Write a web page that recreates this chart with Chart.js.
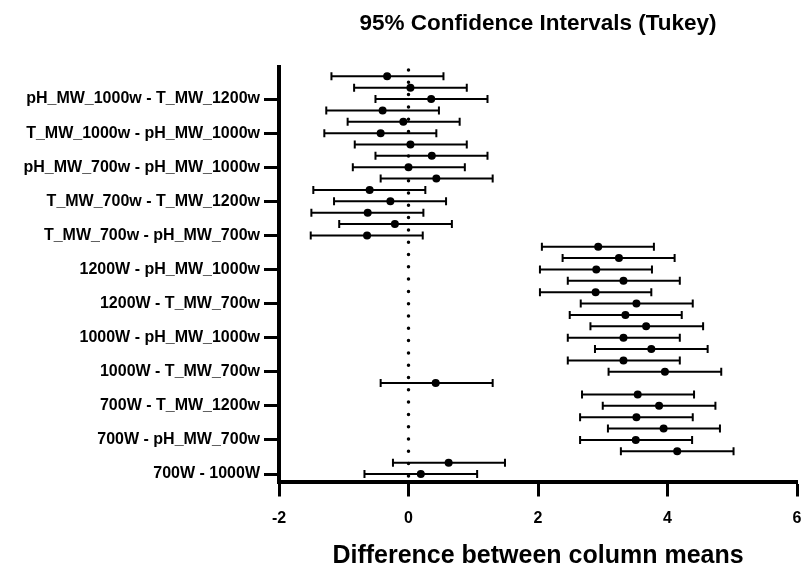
<!DOCTYPE html>
<html>
<head>
<meta charset="utf-8">
<title>95% Confidence Intervals (Tukey)</title>
<script src="https://cdn.jsdelivr.net/npm/chart.js@4.4.1/dist/chart.umd.min.js"></script>
<style>
  html, body { margin: 0; padding: 0; background: #fff; }
</style>
</head>
<body>
<canvas id="chart" width="803" height="574"></canvas>
<script>
// Tukey comparisons, top row first
const comparisons = [
  "T_MW_1200w - pH_MW_1200w",
  "pH_MW_1000w - pH_MW_1200w",
  "pH_MW_1000w - T_MW_1200w",
  "T_MW_1000w - pH_MW_1200w",
  "T_MW_1000w - T_MW_1200w",
  "T_MW_1000w - pH_MW_1000w",
  "pH_MW_700w - pH_MW_1200w",
  "pH_MW_700w - T_MW_1200w",
  "pH_MW_700w - pH_MW_1000w",
  "pH_MW_700w - T_MW_1000w",
  "T_MW_700w - pH_MW_1200w",
  "T_MW_700w - T_MW_1200w",
  "T_MW_700w - pH_MW_1000w",
  "T_MW_700w - T_MW_1000w",
  "T_MW_700w - pH_MW_700w",
  "1200W - pH_MW_1200w",
  "1200W - T_MW_1200w",
  "1200W - pH_MW_1000w",
  "1200W - T_MW_1000w",
  "1200W - pH_MW_700w",
  "1200W - T_MW_700w",
  "1000W - pH_MW_1200w",
  "1000W - T_MW_1200w",
  "1000W - pH_MW_1000w",
  "1000W - T_MW_1000w",
  "1000W - pH_MW_700w",
  "1000W - T_MW_700w",
  "1000W - 1200W",
  "700W - pH_MW_1200w",
  "700W - T_MW_1200w",
  "700W - pH_MW_1000w",
  "700W - T_MW_1000w",
  "700W - pH_MW_700w",
  "700W - T_MW_700w",
  "700W - 1200W",
  "700W - 1000W",
];

const meanDiff = [
  -0.33, 0.03, 0.35, -0.4, -0.08, -0.43, 0.03, 0.36, 0.0, 0.43, -0.6, -0.28,
  -0.63, -0.21, -0.64, 2.93, 3.25, 2.9, 3.32, 2.89, 3.52, 3.35, 3.67, 3.32,
  3.75, 3.32, 3.96, 0.42, 3.54, 3.87, 3.52, 3.94, 3.51, 4.15, 0.62, 0.19,
];
const lowerCI = [
  -1.19, -0.84, -0.51, -1.27, -0.94, -1.3, -0.83, -0.51, -0.86, -0.43, -1.47,
  -1.15, -1.5, -1.07, -1.51, 2.06, 2.38, 2.03, 2.46, 2.03, 2.66, 2.49, 2.81,
  2.46, 2.88, 2.46, 3.09, -0.43, 2.68, 3.0, 2.65, 3.08, 2.65, 3.28, -0.24, -0.68,
];
const upperCI = [
  0.54, 0.9, 1.22, 0.47, 0.79, 0.43, 0.9, 1.22, 0.87, 1.3, 0.26, 0.58, 0.23,
  0.67, 0.22, 3.79, 4.11, 3.76, 4.19, 3.75, 4.39, 4.22, 4.55, 4.19, 4.62, 4.19,
  4.83, 1.3, 4.41, 4.74, 4.39, 4.81, 4.38, 5.02, 1.49, 1.06,
];

const xTickValues = [-2, 0, 2, 4, 6];
// every third comparison gets a label on the axis
const labelledRows = [3, 6, 9, 12, 15, 18, 21, 24, 27, 30, 33, 36];

const FONT = "'Liberation Sans', Arial, Helvetica, sans-serif";

// === Error bars + dotted zero line ===
const intervalBars = {
  id: "intervalBars",
  beforeDatasetsDraw(chart) {
    const { ctx, chartArea, scales } = chart;
    const x = scales.x;
    const y = scales.y;
    ctx.save();
    ctx.strokeStyle = "#000";

    const x0 = x.getPixelForValue(0);
    ctx.lineWidth = 3.5;
    ctx.lineCap = "round";
    ctx.setLineDash([0, 12.3]);
    ctx.beginPath();
    ctx.moveTo(x0, chartArea.top + 3);
    ctx.lineTo(x0, chartArea.bottom);
    ctx.stroke();

    ctx.setLineDash([]);
    ctx.lineCap = "butt";
    ctx.lineWidth = 2;
    meanDiff.forEach((m, i) => {
      const py = y.getPixelForValue(i + 1);
      const xl = x.getPixelForValue(lowerCI[i]);
      const xr = x.getPixelForValue(upperCI[i]);
      ctx.beginPath();
      ctx.moveTo(xl, py);
      ctx.lineTo(xr, py);
      ctx.moveTo(xl, py - 4);
      ctx.lineTo(xl, py + 4);
      ctx.moveTo(xr, py - 4);
      ctx.lineTo(xr, py + 4);
      ctx.stroke();
    });
    ctx.restore();
  },
};

new Chart(document.getElementById("chart"), {
  type: "scatter",
  data: {
    datasets: [
      {
        data: meanDiff.map((m, i) => ({ x: m, y: i + 1 })),
        backgroundColor: "#000",
        borderWidth: 0,
        pointRadius: 4,
      },
    ],
  },
  options: {
    responsive: false,
    animation: false,
    layout: { padding: { top: 0, right: 6, bottom: 0, left: 0 } },
    plugins: {
      legend: { display: false },
      tooltip: { enabled: false },
      title: {
        display: true,
        fullSize: false,
        text: "95% Confidence Intervals (Tukey)",
        color: "#000",
        font: { family: FONT, size: 22.5, weight: "bold" },
        padding: { top: 10.5, bottom: 29.5 },
      },
    },
    scales: {
      x: {
        type: "linear",
        min: -2,
        max: 6,
        afterBuildTicks: (scale) => {
          scale.ticks = xTickValues.map((v) => ({ value: v }));
        },
        afterFit: (scale) => {
          scale.height = 92.5;
          scale.paddingLeft = 0;
          scale.paddingRight = 0;
        },
        border: { display: true, color: "#000", width: 4 },
        grid: {
          drawOnChartArea: false,
          drawTicks: true,
          tickLength: 15,
          tickWidth: 3,
          tickColor: "#000",
        },
        ticks: {
          color: "#000",
          padding: 12,
          font: { family: FONT, size: 16, weight: "bold" },
        },
        title: {
          display: true,
          text: "Difference between column means",
          color: "#000",
          font: { family: FONT, size: 25, weight: "bold" },
          padding: { top: 0, bottom: 3 },
        },
      },
      y: {
        type: "linear",
        reverse: true,
        min: 0.18,
        max: 36.66,
        afterBuildTicks: (scale) => {
          scale.ticks = labelledRows.map((v) => ({ value: v }));
        },
        afterFit: (scale) => {
          scale.width = 279;
        },
        border: { display: true, color: "#000", width: 4 },
        grid: {
          drawOnChartArea: false,
          drawTicks: true,
          tickLength: 15,
          tickWidth: 3,
          tickColor: "#000",
        },
        ticks: {
          color: "#000",
          padding: 4,
          autoSkip: false,
          font: { family: FONT, size: 16, weight: "bold" },
          callback: (value) => comparisons[value - 1],
        },
      },
    },
  },
  plugins: [intervalBars],
});
</script>
</body>
</html>
